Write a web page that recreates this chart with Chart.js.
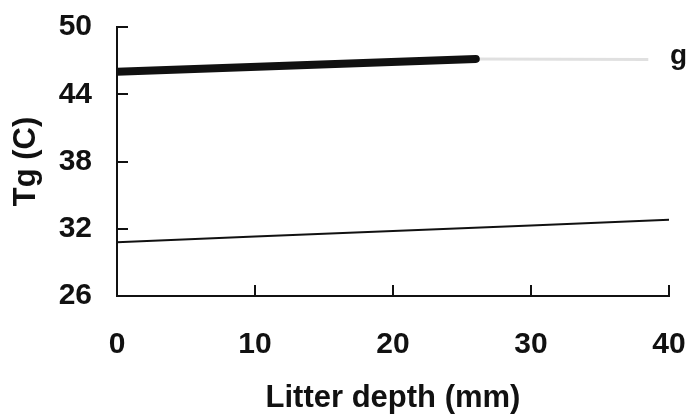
<!DOCTYPE html>
<html>
<head>
<meta charset="utf-8">
<script src="https://cdn.jsdelivr.net/npm/chart.js@4"></script>
<style>
  html, body { margin: 0; padding: 0; background: #fff; }
  #wrap { width: 691px; height: 419px; }
</style>
</head>
<body>
<div id="wrap"><canvas id="tgChart" width="691" height="419"></canvas></div>
<script>
// Ground temperature vs litter depth
const depthTicks = [0, 10, 20, 30, 40];
const tempTicks = [26, 32, 38, 44, 50];

// thick line (upper series), measured part and faint extension
const upperDepth = [0, 26];
const upperTemp = [46.0, 47.15];
const upperExtDepth = [26, 38.5];
const upperExtTemp = [47.15, 47.1];

// thin line (lower series)
const lowerDepth = [0, 10, 20, 30, 40];
const lowerTemp = [30.8, 31.3, 31.8, 32.3, 32.8];

const seriesLabel = 'g';

function toPoints(xs, ys) {
    return xs.map((x, i) => ({ x: x, y: ys[i] }));
}

// fixed axis sizes; drop the label overflow padding so layout.padding decides the plot box
function fixSize(prop, size) {
    return function(s) {
        s[prop] = size;
        s.paddingTop = s.paddingBottom = s.paddingLeft = s.paddingRight = 0;
    };
}

const ink = '#111';
const tickFont = { family: 'Liberation Sans, Arial, sans-serif', size: 30, weight: 'bold' };
const titleFont = { family: 'Liberation Sans, Arial, sans-serif', size: 31, weight: 'bold' };

// tick marks drawn inside the plot, plus the "g" tag next to the upper line
const innerTicks = {
    id: 'innerTicks',
    afterDraw(chart) {
        const ctx = chart.ctx;
        const x = chart.scales.x, y = chart.scales.y;
        const len = 11;
        ctx.save();
        ctx.strokeStyle = ink;
        ctx.lineWidth = 2;
        ctx.beginPath();
        tempTicks.forEach(v => {
            if (v === y.min) return;
            const py = Math.round(y.getPixelForValue(v));
            ctx.moveTo(x.left, py);
            ctx.lineTo(x.left + len, py);
        });
        depthTicks.forEach(v => {
            if (v === x.min) return;
            const px = Math.round(x.getPixelForValue(v));
            ctx.moveTo(px, y.bottom);
            ctx.lineTo(px, y.bottom - len);
        });
        ctx.stroke();

        ctx.fillStyle = ink;
        ctx.font = 'bold 28px "Liberation Sans", Arial, sans-serif';
        ctx.textAlign = 'left';
        ctx.textBaseline = 'middle';
        ctx.fillText(seriesLabel, x.right + 1, y.getPixelForValue(upperExtTemp[1]) - 3);
        ctx.restore();
    }
};

new Chart(document.getElementById('tgChart').getContext('2d'), {
    type: 'line',
    data: {
        datasets: [
            {
                data: toPoints(upperExtDepth, upperExtTemp),
                borderColor: 'rgba(0,0,0,0.12)',
                borderWidth: 3,
                pointRadius: 0
            },
            {
                data: toPoints(upperDepth, upperTemp),
                borderColor: ink,
                borderWidth: 8,
                borderCapStyle: 'round',
                pointRadius: 0
            },
            {
                data: toPoints(lowerDepth, lowerTemp),
                borderColor: ink,
                borderWidth: 2,
                pointRadius: 0
            }
        ]
    },
    options: {
        responsive: false,
        animation: false,
        events: [],
        layout: {
            padding: { top: 27, right: 22, bottom: 0, left: 0 }
        },
        plugins: {
            legend: { display: false },
            tooltip: { enabled: false }
        },
        scales: {
            x: {
                type: 'linear',
                min: 0,
                max: 40,
                afterBuildTicks: s => { s.ticks = depthTicks.map(v => ({ value: v })); },
                afterFit: fixSize('height', 123),
                grid: { display: false, drawTicks: false },
                border: { display: true, color: ink, width: 2 },
                ticks: { color: ink, font: tickFont, padding: 31, maxRotation: 0 },
                title: {
                    display: true,
                    text: 'Litter depth (mm)',
                    color: ink,
                    font: titleFont,
                    padding: { top: 0, bottom: 2 }
                }
            },
            y: {
                min: 26,
                max: 50,
                afterBuildTicks: s => { s.ticks = tempTicks.map(v => ({ value: v })); },
                afterFit: fixSize('width', 117),
                grid: { display: false, drawTicks: false },
                border: { display: true, color: ink, width: 2 },
                ticks: { color: ink, font: tickFont, padding: 25 },
                title: {
                    display: true,
                    text: 'Tg (C)',
                    color: ink,
                    font: titleFont,
                    padding: { top: 8, bottom: 0 }
                }
            }
        }
    },
    plugins: [innerTicks]
});
</script>
</body>
</html>
